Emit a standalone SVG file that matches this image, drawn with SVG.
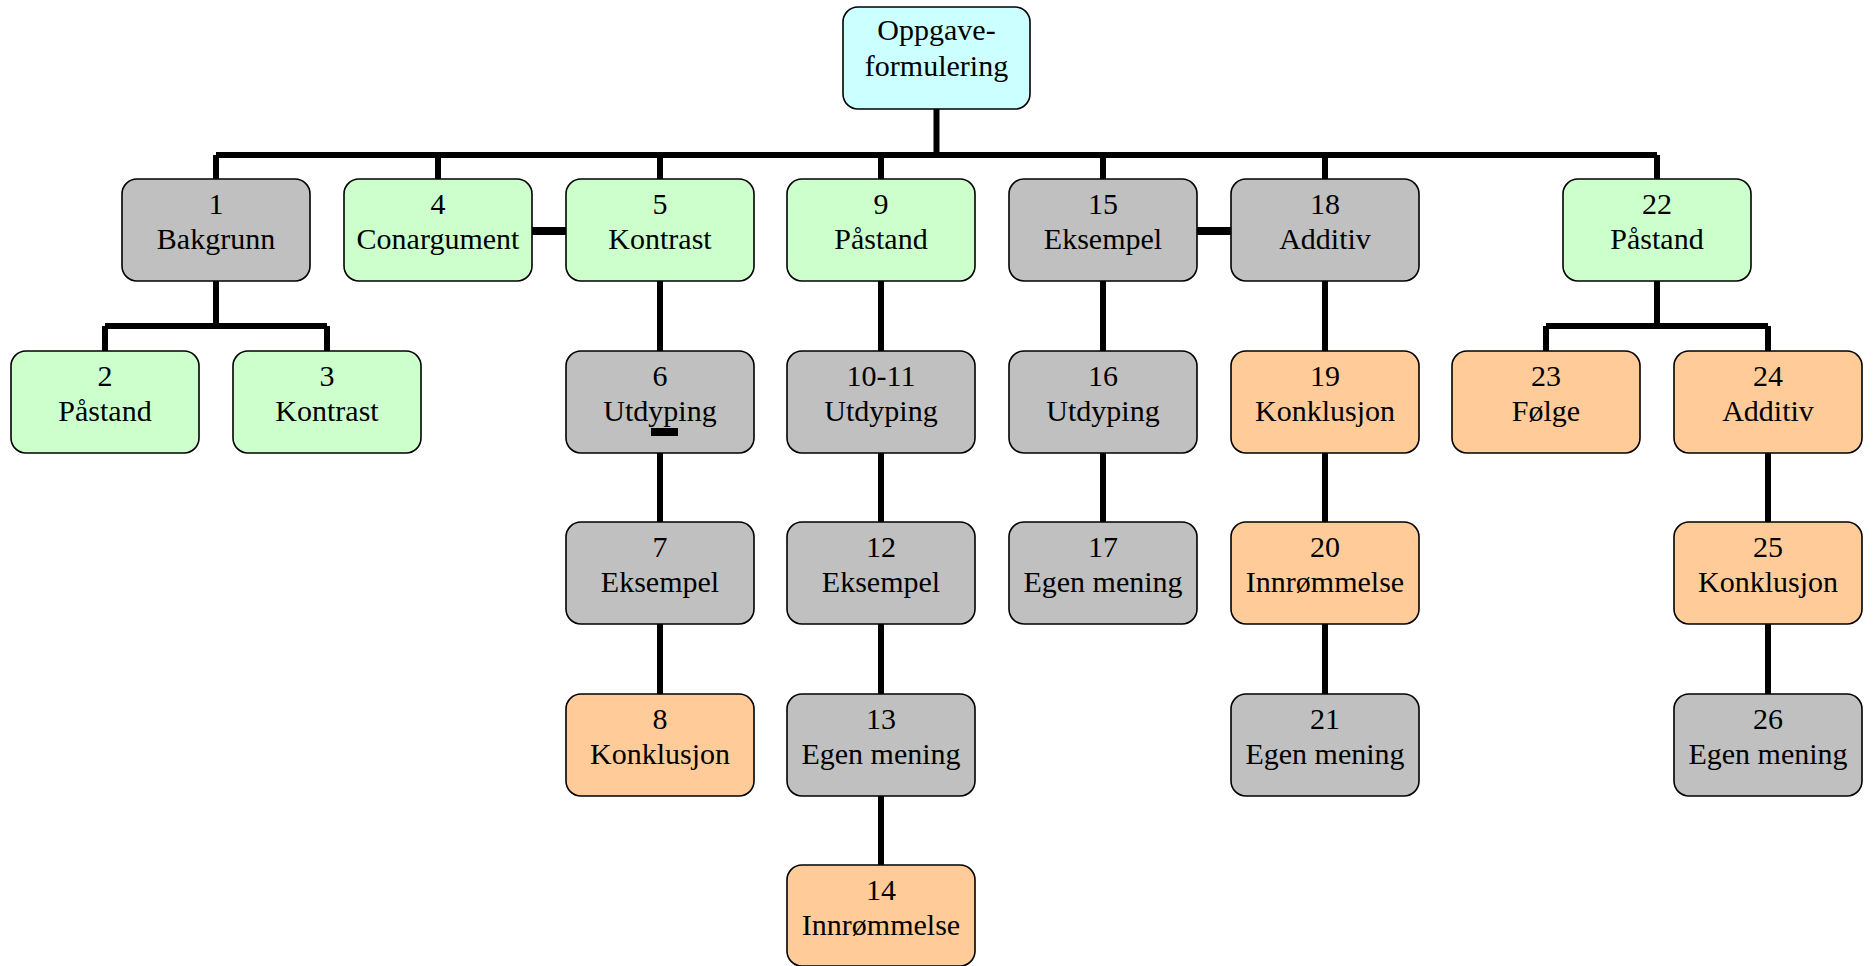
<svg xmlns="http://www.w3.org/2000/svg" width="1874" height="966" viewBox="0 0 1874 966">
  <style>
    .box { stroke: #000; stroke-width: 1.6; }
    .green { fill: #CCFFCC; }
    .gray { fill: #C0C0C0; }
    .orange { fill: #FFCC99; }
    .cyan { fill: #CCFFFF; }
    text { font-family: "Liberation Serif", "Times New Roman", serif; font-size: 30px; fill: #000; text-anchor: middle; }
    .wire { stroke: #000; stroke-width: 6; fill: none; stroke-linecap: butt; }
    .link { stroke: #000; stroke-width: 8; fill: none; }
  </style>
  <rect width="1874" height="966" fill="#fff"/>

  <!-- root -->
  <g id="n0">
    <rect class="box cyan" x="843" y="7" width="187" height="102" rx="15"/>
    <text x="936.5" y="40">Oppgave-</text>
    <text x="936.5" y="76">formulering</text>
  </g>

  <!-- first row -->
  <g id="n1"><rect class="box gray" x="122" y="179" width="188" height="102" rx="15"/><text x="216" y="214">1</text><text x="216" y="249">Bakgrunn</text></g>
  <g id="n4"><rect class="box green" x="344" y="179" width="188" height="102" rx="15"/><text x="438" y="214">4</text><text x="438" y="249">Conargument</text></g>
  <g id="n5"><rect class="box green" x="566" y="179" width="188" height="102" rx="15"/><text x="660" y="214">5</text><text x="660" y="249">Kontrast</text></g>
  <g id="n9"><rect class="box green" x="787" y="179" width="188" height="102" rx="15"/><text x="881" y="214">9</text><text x="881" y="249">Påstand</text></g>
  <g id="n15"><rect class="box gray" x="1009" y="179" width="188" height="102" rx="15"/><text x="1103" y="214">15</text><text x="1103" y="249">Eksempel</text></g>
  <g id="n18"><rect class="box gray" x="1231" y="179" width="188" height="102" rx="15"/><text x="1325" y="214">18</text><text x="1325" y="249">Additiv</text></g>
  <g id="n22"><rect class="box green" x="1563" y="179" width="188" height="102" rx="15"/><text x="1657" y="214">22</text><text x="1657" y="249">Påstand</text></g>

  <!-- second row -->
  <g id="n2"><rect class="box green" x="11" y="351" width="188" height="102" rx="15"/><text x="105" y="386">2</text><text x="105" y="421">Påstand</text></g>
  <g id="n3"><rect class="box green" x="233" y="351" width="188" height="102" rx="15"/><text x="327" y="386">3</text><text x="327" y="421">Kontrast</text></g>
  <g id="n6"><rect class="box gray" x="566" y="351" width="188" height="102" rx="15"/><text x="660" y="386">6</text><text x="660" y="421">Utdyping</text></g>
  <g id="n10"><rect class="box gray" x="787" y="351" width="188" height="102" rx="15"/><text x="881" y="386">10-11</text><text x="881" y="421">Utdyping</text></g>
  <g id="n16"><rect class="box gray" x="1009" y="351" width="188" height="102" rx="15"/><text x="1103" y="386">16</text><text x="1103" y="421">Utdyping</text></g>
  <g id="n19"><rect class="box orange" x="1231" y="351" width="188" height="102" rx="15"/><text x="1325" y="386">19</text><text x="1325" y="421">Konklusjon</text></g>
  <g id="n23"><rect class="box orange" x="1452" y="351" width="188" height="102" rx="15"/><text x="1546" y="386">23</text><text x="1546" y="421">Følge</text></g>
  <g id="n24"><rect class="box orange" x="1674" y="351" width="188" height="102" rx="15"/><text x="1768" y="386">24</text><text x="1768" y="421">Additiv</text></g>

  <!-- third row -->
  <g id="n7"><rect class="box gray" x="566" y="522" width="188" height="102" rx="15"/><text x="660" y="557">7</text><text x="660" y="592">Eksempel</text></g>
  <g id="n12"><rect class="box gray" x="787" y="522" width="188" height="102" rx="15"/><text x="881" y="557">12</text><text x="881" y="592">Eksempel</text></g>
  <g id="n17"><rect class="box gray" x="1009" y="522" width="188" height="102" rx="15"/><text x="1103" y="557">17</text><text x="1103" y="592">Egen mening</text></g>
  <g id="n20"><rect class="box orange" x="1231" y="522" width="188" height="102" rx="15"/><text x="1325" y="557">20</text><text x="1325" y="592">Innrømmelse</text></g>
  <g id="n25"><rect class="box orange" x="1674" y="522" width="188" height="102" rx="15"/><text x="1768" y="557">25</text><text x="1768" y="592">Konklusjon</text></g>

  <!-- fourth row -->
  <g id="n8"><rect class="box orange" x="566" y="694" width="188" height="102" rx="15"/><text x="660" y="729">8</text><text x="660" y="764">Konklusjon</text></g>
  <g id="n13"><rect class="box gray" x="787" y="694" width="188" height="102" rx="15"/><text x="881" y="729">13</text><text x="881" y="764">Egen mening</text></g>
  <g id="n21"><rect class="box gray" x="1231" y="694" width="188" height="102" rx="15"/><text x="1325" y="729">21</text><text x="1325" y="764">Egen mening</text></g>
  <g id="n26"><rect class="box gray" x="1674" y="694" width="188" height="102" rx="15"/><text x="1768" y="729">26</text><text x="1768" y="764">Egen mening</text></g>

  <!-- fifth row -->
  <g id="n14"><rect class="box orange" x="787" y="865" width="188" height="101" rx="15"/><text x="881" y="900">14</text><text x="881" y="935">Innrømmelse</text></g>

  <!-- connectors -->
  <g id="connectors">
    <path class="wire" d="M936.5 109 V155 M216 155 H1657 M216 155 V179 M438 155 V179 M660 155 V179 M881 155 V179 M1103 155 V179 M1325 155 V179 M1657 155 V179"/>
    <path class="wire" d="M216 281 V326 M105 326 H327 M105 326 V351 M327 326 V351"/>
    <path class="wire" d="M1657 281 V326 M1546 326 H1768 M1546 326 V351 M1768 326 V351"/>
    <path class="wire" d="M660 281 V351 M660 453 V522 M660 624 V694"/>
    <path class="wire" d="M881 281 V351 M881 453 V522 M881 624 V694 M881 796 V865"/>
    <path class="wire" d="M1103 281 V351 M1103 453 V522"/>
    <path class="wire" d="M1325 281 V351 M1325 453 V522 M1325 624 V694"/>
    <path class="wire" d="M1768 453 V522 M1768 624 V694"/>
    <path class="link" d="M532 231 H566 M1197 231 H1231"/>
    <rect x="651" y="428" width="27" height="8" fill="#000"/>
  </g>
</svg>
